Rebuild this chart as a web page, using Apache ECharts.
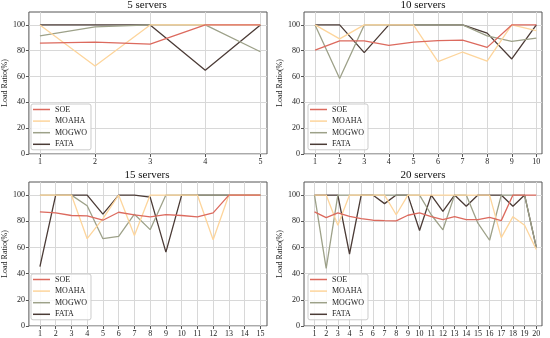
<!DOCTYPE html>
<html><head><meta charset="utf-8">
<script src="https://cdn.jsdelivr.net/npm/echarts@6/dist/echarts.min.js"></script>
<style>html,body{margin:0;padding:0;background:#fff}#c{width:550px;height:338px}</style>
</head><body><div id="c"></div>
<script>
const methods = ['SOE', 'MOAHA', 'MOGWO', 'FATA'];
const titles = ['5 servers', '10 servers', '15 servers', '20 servers'];
const yTicks = [0, 20, 40, 60, 80, 100];

const x5 = [1, 2, 3, 4, 5];
const soe5 = [85.9, 86.7, 85.1, 100, 100];
const moaha5 = [100, 68.2, 100, 100, 100];
const mogwo5 = [91.5, 98.5, 100, 100, 79.2];
const fata5 = [100, 100, 100, 64.9, 100];

const x10 = [1, 2, 3, 4, 5, 6, 7, 8, 9, 10];
const soe10 = [80.5, 87.7, 87.7, 84.1, 86.7, 87.9, 88.2, 82.6, 100, 100];
const moaha10 = [100, 89.2, 100, 100, 100, 71.5, 79, 72, 100, 95.6];
const mogwo10 = [100, 58.5, 100, 100, 100, 100, 100, 91.5, 87.2, 89.7];
const fata10 = [100, 100, 78.5, 100, 100, 100, 100, 93.6, 73.6, 100];

const x15 = [1, 2, 3, 4, 5, 6, 7, 8, 9, 10, 11, 12, 13, 14, 15];
const soe15 = [87.2, 86.4, 84.4, 84.1, 80.8, 86.9, 84.9, 83.3, 85.1, 84.4, 83.3, 86.4, 100, 100, 100];
const moaha15 = [100, 100, 100, 66.7, 82, 100, 69.2, 100, 100, 100, 100, 65.9, 100, 100, 100];
const mogwo15 = [100, 100, 100, 91.8, 66.7, 68.5, 85.4, 73.6, 100, 100, 100, 100, 100, 100, 100];
const fata15 = [45.4, 100, 100, 100, 85.5, 100, 100, 98.5, 56.4, 100, 100, 100, 100, 100, 100];

const x20 = [1, 2, 3, 4, 5, 6, 7, 8, 9, 10, 11, 12, 13, 14, 15, 16, 17, 18, 19, 20];
const soe20 = [87.2, 82.8, 86.4, 83.8, 82.1, 80.8, 80.5, 80.3, 84.6, 86.5, 83.5, 81.3, 83.5, 81.2, 81.2, 83, 80.5, 100, 100, 100];
const moaha20 = [100, 100, 77, 100, 100, 100, 100, 85, 100, 100, 100, 100, 100, 100, 100, 100, 67.5, 83.5, 77, 58.5];
const mogwo20 = [100, 44, 100, 100, 100, 100, 100, 100, 100, 100, 85, 73.5, 100, 100, 78.5, 65.5, 100, 100, 100, 60];
const fata20 = [100, 100, 100, 55, 100, 100, 93.5, 100, 100, 73, 100, 87.5, 100, 91.5, 100, 100, 100, 91.5, 100, 60];

const colors = { SOE: '#dc6a5e', MOAHA: '#fdd59c', MOGWO: '#9da189', FATA: '#4b3b36' };
const FONT = 'Liberation Serif';

const panels = [
  { xs: x5, d: { SOE: soe5, MOAHA: moaha5, MOGWO: mogwo5, FATA: fata5 }, left: 27, top: 12, width: 240, height: 142, xMin: 0.8, xMax: 5.12 },
  { xs: x10, d: { SOE: soe10, MOAHA: moaha10, MOGWO: mogwo10, FATA: fata10 }, left: 304, top: 12, width: 238, height: 142, xMin: 0.55, xMax: 10.23 },
  { xs: x15, d: { SOE: soe15, MOAHA: moaha15, MOGWO: mogwo15, FATA: fata15 }, left: 27, top: 182, width: 240, height: 144, xMin: 0.3, xMax: 15.42 },
  { xs: x20, d: { SOE: soe20, MOAHA: moaha20, MOGWO: mogwo20, FATA: fata20 }, left: 304, top: 182, width: 238, height: 144, xMin: 0.1, xMax: 20.49 }
];

const grid = [], xAxis = [], yAxis = [], series = [], legend = [], graphic = [];
const drawOrder = ['FATA', 'MOGWO', 'MOAHA', 'SOE'];
panels.forEach((p, i) => {
  grid.push({ left: p.left, top: p.top, width: p.width, height: p.height, show: true, borderColor: '#555', borderWidth: 1, backgroundColor: 'transparent' });
  xAxis.push({
    type: 'value', gridIndex: i, min: p.xMin, max: p.xMax,
    axisLine: { show: false },
    axisTick: { show: true, length: 3, lineStyle: { color: '#555' }, customValues: p.xs },
    axisLabel: { customValues: p.xs, fontSize: 8, fontFamily: FONT, color: '#222', margin: 4 },
    splitLine: { show: true, lineStyle: { color: '#d8d8d8', width: 1 } }
  });
  yAxis.push({
    type: 'value', gridIndex: i, min: 0, max: 110,
    name: 'Load Ratio(%)', nameLocation: 'middle', nameGap: 12,
    nameTextStyle: { fontSize: 8, fontFamily: FONT, color: '#222' },
    axisLine: { show: false },
    axisTick: { show: true, length: 3, lineStyle: { color: '#555' }, customValues: yTicks },
    axisLabel: { customValues: yTicks, fontSize: 8, fontFamily: FONT, color: '#222', margin: 4 },
    splitLine: { show: true, lineStyle: { color: '#d8d8d8', width: 1 } }
  });
  drawOrder.forEach(m => {
    series.push({
      name: m, type: 'line', xAxisIndex: i, yAxisIndex: i,
      data: p.xs.map((x, k) => [x, p.d[m][k]]),
      symbol: 'none', showSymbol: false,
      lineStyle: { width: 1.3, color: colors[m] }, itemStyle: { color: colors[m] },
      emphasis: { disabled: true }, animation: false
    });
  });
  legend.push({
    left: p.left + 4, top: p.top + 92, orient: 'vertical', data: methods.slice(),
    icon: 'rect', itemWidth: 17, itemHeight: 1.5, itemGap: 2.6,
    padding: [1, 4, 1, 2], backgroundColor: 'rgba(255,255,255,0.85)',
    borderColor: '#cccccc', borderWidth: 1, borderRadius: 2, selectedMode: false,
    textStyle: { fontSize: 8, fontFamily: FONT, color: '#222', lineHeight: 9 }
  });
  graphic.push({
    type: 'text', x: p.left + p.width / 2, y: p.top - 12,
    style: { text: titles[i], fontSize: 11, fontFamily: FONT, fill: '#111', align: 'center', verticalAlign: 'top' }
  });
});

const chart = echarts.init(document.getElementById('c'), null, { renderer: 'canvas' });
chart.setOption({ animation: false, grid, xAxis, yAxis, series, legend, graphic, backgroundColor: '#fff' });
</script>
</body></html>
